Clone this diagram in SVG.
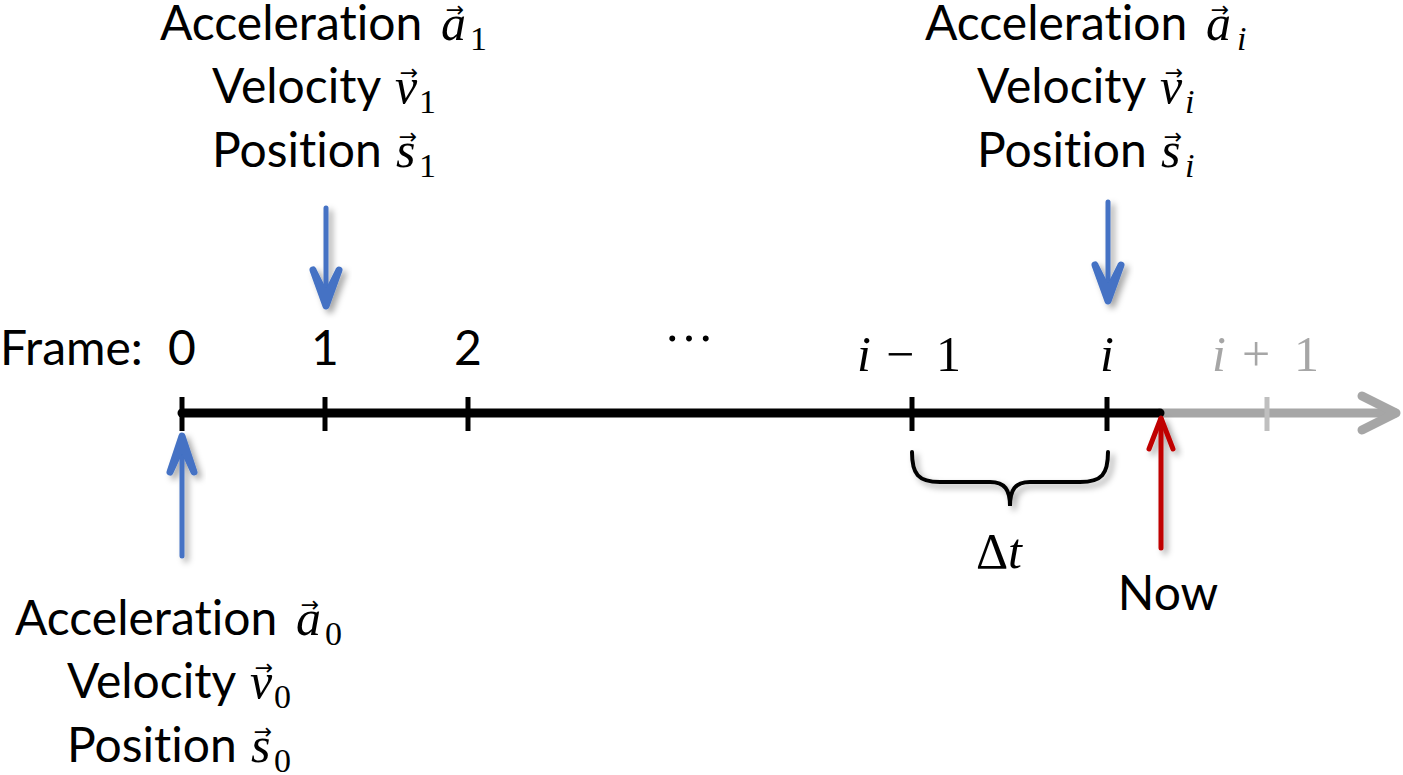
<svg xmlns="http://www.w3.org/2000/svg" width="1403" height="775" viewBox="0 0 1403 775">
<style>
text{font-variant-ligatures:none;font-feature-settings:"liga" 0}
.t{font-family:Lato,"Liberation Sans",sans-serif;font-size:48px;fill:#000}
.m{font-family:"Liberation Serif","DejaVu Serif",serif;font-style:italic;font-size:50px}
.mu{font-family:"Liberation Serif","DejaVu Serif",serif;font-style:normal;font-size:50px}
.sub{font-family:"Liberation Serif","DejaVu Serif",serif;font-size:34px;font-style:normal}
.subi{font-family:"Liberation Serif","DejaVu Serif",serif;font-size:34px;font-style:italic}
.vec{font-family:"DejaVu Sans",sans-serif;font-size:22px;text-anchor:middle}
.axis{stroke:#000;stroke-width:9;stroke-linecap:round;fill:none}
.tick{stroke:#000;stroke-width:5;fill:none}
.blue{stroke:#4472c4;stroke-width:5;fill:none;stroke-linecap:round;stroke-linejoin:round}
.bluehead{stroke:#4472c4;stroke-width:7;fill:#4472c4;stroke-linecap:round;stroke-linejoin:round}
.red{stroke:#c00000;stroke-width:5;fill:none;stroke-linecap:round;stroke-linejoin:round}
.gray{stroke:#a6a6a6;stroke-width:9;fill:none;stroke-linecap:round;stroke-linejoin:round}
</style>
<defs>
<filter id="sh" x="-50%" y="-50%" width="200%" height="200%">
<feDropShadow dx="4" dy="4" stdDeviation="3" flood-color="#000" flood-opacity="0.35"/>
</filter>
</defs>
<g id="connectors">
<g id="axis-future">
<line class="gray" x1="1160" y1="413" x2="1395" y2="413"/>
<path class="gray" d="M1362,396 L1396,413 L1362,430"/>
<line x1="1267" y1="397" x2="1267" y2="431" stroke="#bfbfbf" stroke-width="5"/>
</g>
<g id="axis-past">
<line class="axis" x1="182" y1="413" x2="1160" y2="413"/>
<line class="tick" x1="182" y1="397" x2="182" y2="431"/>
<line class="tick" x1="325" y1="397" x2="325" y2="431"/>
<line class="tick" x1="468" y1="397" x2="468" y2="431"/>
<line class="tick" x1="912" y1="397" x2="912" y2="431"/>
<line class="tick" x1="1107" y1="397" x2="1107" y2="431"/>
</g>
<g id="arrow-frame1" filter="url(#sh)">
<line class="blue" x1="326" y1="208" x2="326" y2="300"/>
<path class="bluehead" d="M313,270 L326,306 L339,270 L326,296 Z"/>
</g>
<g id="arrow-framei" filter="url(#sh)">
<line class="blue" x1="1108" y1="202" x2="1108" y2="296"/>
<path class="bluehead" d="M1095,265 L1108,301 L1121,265 L1108,291 Z"/>
</g>
<g id="arrow-frame0" filter="url(#sh)">
<line class="blue" x1="182" y1="556" x2="182" y2="442"/>
<path class="bluehead" d="M170,472 L182,436 L194,472 L182,446 Z"/>
</g>
<g id="arrow-now" filter="url(#sh)">
<line class="red" x1="1161" y1="548" x2="1161" y2="419"/>
<path class="red" d="M1149,449 L1161,418 L1173,449"/>
</g>
<path id="brace" filter="url(#sh)" d="M912,452 C912,474 918,482 940,482 L990,482 C1005,482 1010,490 1010,506 C1010,490 1015,482 1030,482 L1080,482 C1102,482 1108,474 1108,452" fill="none" stroke="#000" stroke-width="4" stroke-linecap="round"/>
</g>
<g id="frame-labels">
<text class="t" x="0" y="365">Frame:</text>
<text class="t" x="182" y="365" text-anchor="middle">0</text>
<text class="t" x="325" y="365" text-anchor="middle">1</text>
<text class="t" x="468" y="365" text-anchor="middle">2</text>
<text class="mu" x="689" y="341" text-anchor="middle" font-size="44">…</text>
<text class="m" x="857" y="371">i</text>
<text class="mu" x="886" y="371">−</text>
<text class="mu" x="936" y="371">1</text>
<text class="m" x="1107" y="371" text-anchor="middle">i</text>
<g fill="#a6a6a6">
<text class="m" x="1212" y="371">i</text>
<text class="mu" x="1242" y="371">+</text>
<text class="mu" x="1294" y="371">1</text>
</g>
</g>
<g id="node-frame1">
<text class="t" x="160" y="40">Acceleration</text>
<text class="m" x="441" y="40">a</text>
<text class="vec" x="455" y="17">→</text>
<text class="sub" x="470" y="50">1</text>
<text class="t" x="212" y="103">Velocity</text>
<text class="m" x="395" y="103">v</text>
<text class="vec" x="409" y="80">→</text>
<text class="sub" x="419" y="113">1</text>
<text class="t" x="212" y="167">Position</text>
<text class="m" x="396" y="167">s</text>
<text class="vec" x="408" y="144">→</text>
<text class="sub" x="419" y="177">1</text>
</g>
<g id="node-framei" transform="translate(765,0)">
<text class="t" x="160" y="40">Acceleration</text>
<text class="m" x="441" y="40">a</text>
<text class="vec" x="455" y="17">→</text>
<text class="subi" x="472" y="50">i</text>
<text class="t" x="212" y="103">Velocity</text>
<text class="m" x="395" y="103">v</text>
<text class="vec" x="409" y="80">→</text>
<text class="subi" x="420" y="113">i</text>
<text class="t" x="212" y="167">Position</text>
<text class="m" x="396" y="167">s</text>
<text class="vec" x="408" y="144">→</text>
<text class="subi" x="420" y="177">i</text>
</g>
<g id="node-frame0" transform="translate(-145,595)">
<text class="t" x="160" y="40">Acceleration</text>
<text class="m" x="441" y="40">a</text>
<text class="vec" x="455" y="17">→</text>
<text class="sub" x="470" y="50">0</text>
<text class="t" x="212" y="103">Velocity</text>
<text class="m" x="395" y="103">v</text>
<text class="vec" x="409" y="80">→</text>
<text class="sub" x="419" y="113">0</text>
<text class="t" x="212" y="167">Position</text>
<text class="m" x="396" y="167">s</text>
<text class="vec" x="408" y="144">→</text>
<text class="sub" x="419" y="177">0</text>
</g>
<g id="node-dt">
<text class="mu" x="976" y="568">Δ</text>
<text class="m" x="1008" y="568">t</text>
</g>
<g id="node-now">
<text class="t" x="1168" y="610" text-anchor="middle">Now</text>
</g>
</svg>
